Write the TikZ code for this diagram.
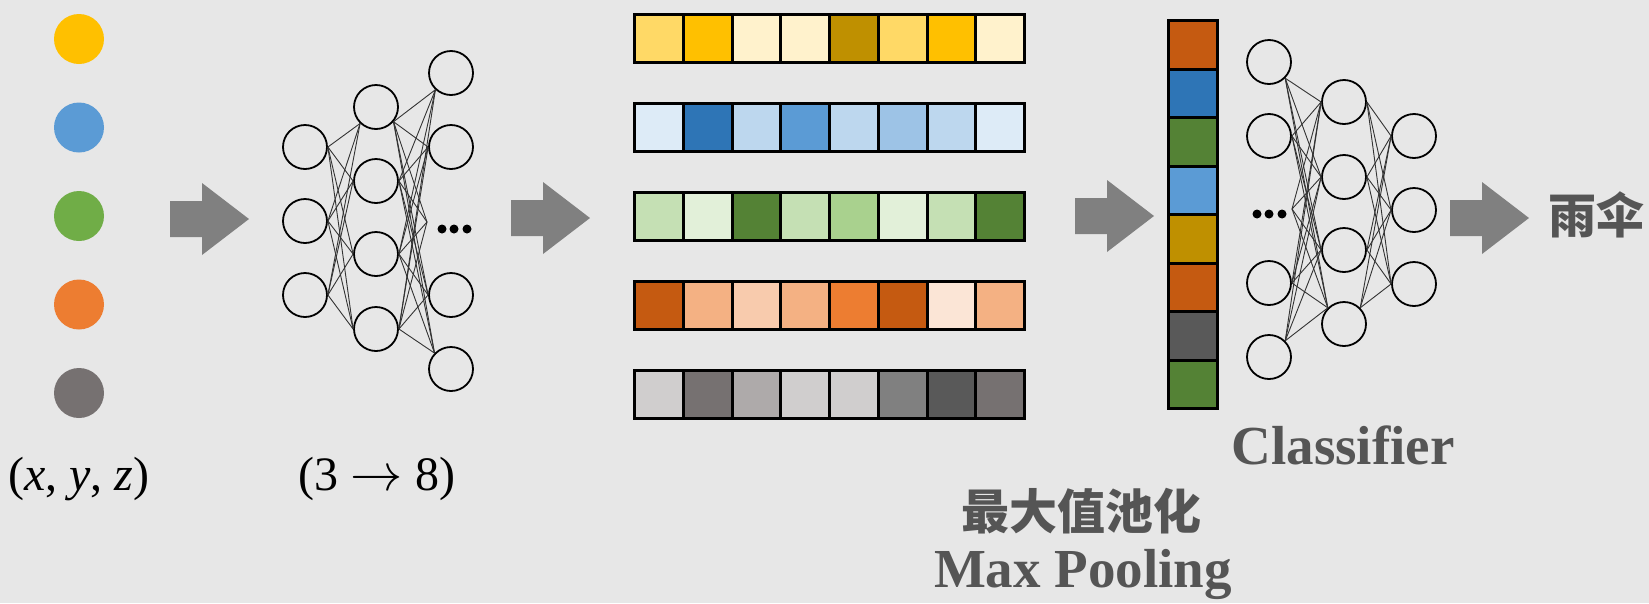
\documentclass[tikz,border=0pt]{standalone}
\usepackage{graphicx}
\usepackage{fontspec}
\setmainfont{Liberation Serif}
\newfontfamily\cjk{Noto Sans CJK SC}
\definecolor{bgc}{HTML}{E7E7E7}
\definecolor{arrowgray}{HTML}{808080}
\definecolor{txtgray}{HTML}{555555}
\definecolor{yA}{HTML}{FFD966}\definecolor{yB}{HTML}{FFC000}\definecolor{yC}{HTML}{FFF2CC}\definecolor{yD}{HTML}{BF9000}
\definecolor{bA}{HTML}{DDEBF7}\definecolor{bB}{HTML}{2E75B6}\definecolor{bC}{HTML}{BDD7EE}\definecolor{bD}{HTML}{5B9BD5}\definecolor{bE}{HTML}{9DC3E6}
\definecolor{gA}{HTML}{C5E0B4}\definecolor{gB}{HTML}{E2F0D9}\definecolor{gC}{HTML}{548235}\definecolor{gD}{HTML}{A9D18E}\definecolor{gE}{HTML}{70AD47}
\definecolor{oA}{HTML}{C55A11}\definecolor{oB}{HTML}{F4B183}\definecolor{oC}{HTML}{F8CBAD}\definecolor{oD}{HTML}{ED7D31}\definecolor{oE}{HTML}{FBE5D6}
\definecolor{kA}{HTML}{D0CECE}\definecolor{kB}{HTML}{767171}\definecolor{kC}{HTML}{AEAAAA}\definecolor{kD}{HTML}{808080}\definecolor{kE}{HTML}{595959}
\tikzset{
  neuron/.style={circle, draw=black, line width=1.8pt, minimum size=44pt, inner sep=0pt},
  conn/.style={draw=black!80, line width=0.9pt},
  cell/.style={rectangle, draw=black, line width=3pt, minimum width=48.75pt, minimum height=48pt, inner sep=0pt},
  vcell/.style={rectangle, draw=black, line width=3pt, minimum width=49pt, minimum height=48.5pt, inner sep=0pt},
  dotin/.style={circle, inner sep=0pt, minimum size=50pt},
  lbl/.style={font=\fontsize{48}{56}\selectfont, text=black, anchor=base, inner sep=0pt},
  boldlbl/.style={font=\fontsize{55}{64}\selectfont\bfseries, text=txtgray, anchor=base, inner sep=0pt},
  cjklbl/.style={font=\fontsize{48}{56}\selectfont\cjk\bfseries, text=txtgray, inner sep=0pt},
  blockarrow/.pic={\fill[arrowgray] (0,-18) -- (32,-18) -- (32,-36) -- (79,0) -- (32,36) -- (32,18) -- (0,18) -- cycle;}
}
\begin{document}
\begin{tikzpicture}[x=1pt, y=-1pt]
\fill[bgc] (0,0) rectangle (1649,603);
\useasboundingbox (0,0) rectangle (1649,603);

% input points
\foreach \c [count=\i] in {yB,bD,gE,oD,kB}
  \node[dotin, fill=\c] (p\i) at (79,{39+88.5*(\i-1)}) {};
\node[lbl] (xyz) at (79,490) {(\textit{x}, \textit{y}, \textit{z})};

% block arrows
\pic at (170,219) {blockarrow};
\pic at (511,218) {blockarrow};
\pic at (1075,216) {blockarrow};
\pic at (1450,218) {blockarrow};

% shared MLP
\foreach \y [count=\i] in {147,221,295} {
  \node[neuron] (L\i) at (305,\y) {};
  \coordinate (Lo\i) at (L\i.east);
}
\foreach \y [count=\i] in {107,181,254,329} {
  \node[neuron] (M\i) at (376,\y) {};
  \coordinate (Mi\i) at (M\i.west);
  \coordinate (Mo\i) at (M\i.east);
}
\coordinate (Mi1) at (M1.226);
\coordinate (Mo1) at (M1.320);
\node[neuron] (R1) at (451,73) {};
\node[neuron] (R2) at (451,147) {};
\node[neuron] (R4) at (451,295) {};
\node[neuron] (R5) at (451,369) {};
\coordinate (Ri1) at (R1.227);
\coordinate (Ri2) at (R2.west);
\coordinate (Ri3) at (427,222);
\coordinate (Ri4) at (R4.west);
\coordinate (Ri5) at (R5.136);
\foreach \x in {442,454,467} \fill (\x,229) circle (4.5);
\foreach \i in {1,2,3} \foreach \j in {1,...,4} \draw[conn] (Lo\i) -- (Mi\j);
\foreach \i in {1,...,4} \foreach \j in {1,...,5} \draw[conn] (Mo\i) -- (Ri\j);
\node[lbl] (mlp) at (377,490) {(3 \scalebox{2.1}{$\rightarrow$} 8)};

% feature rows
\foreach \r/\y/\cols in {1/38.5/{yA,yB,yC,yC,yD,yA,yB,yC},
                        2/127.5/{bA,bB,bC,bD,bC,bE,bC,bA},
                        3/216.5/{gA,gB,gC,gA,gD,gB,gA,gC},
                        4/305/{oA,oB,oC,oB,oD,oA,oE,oB},
                        5/394/{kA,kB,kC,kA,kA,kD,kE,kB}}{
  \foreach \c [count=\i] in \cols
    \node[cell, fill=\c] (r\r c\i) at ({634.5+48.75*(\i-0.5)},\y) {};
}

% pooled vector
\foreach \c [count=\i] in {oA,bB,gC,bD,yD,oA,kE,gC}
  \node[vcell, fill=\c] (v\i) at (1193,{20.5+48.5*(\i-0.5)}) {};
\node[cjklbl] (pool) at (1081,511) {最大值池化};
\node[boldlbl] (poolen) at (1083,587) {Max Pooling};

% classifier
\node[neuron] (C1) at (1269,62) {};
\node[neuron] (C2) at (1269,136) {};
\node[neuron] (C4) at (1269,283) {};
\node[neuron] (C5) at (1269,357) {};
\coordinate (Co1) at (C1.315);
\coordinate (Co2) at (C2.east);
\coordinate (Co3) at (1292,209);
\coordinate (Co4) at (C4.east);
\coordinate (Co5) at (C5.45);
\foreach \x in {1257,1269,1282} \fill (\x,214) circle (4.5);
\foreach \y [count=\i] in {102,177,250,324} {
  \node[neuron] (D\i) at (1344,\y) {};
  \coordinate (Di\i) at (D\i.west);
  \coordinate (Do\i) at (D\i.east);
}
\coordinate (Di4) at (D4.135);
\coordinate (Do4) at (D4.45);
\foreach \y [count=\i] in {136,210,284} {
  \node[neuron] (E\i) at (1414,\y) {};
  \coordinate (Ei\i) at (E\i.west);
}
\foreach \i in {1,...,5} \foreach \j in {1,...,4} \draw[conn] (Co\i) -- (Di\j);
\foreach \i in {1,...,4} \foreach \j in {1,2,3} \draw[conn] (Do\i) -- (Ei\j);
\node[boldlbl] (cls) at (1343,464) {Classifier};

\node[cjklbl] (out) at (1596,215) {雨伞};
\end{tikzpicture}
\end{document}
